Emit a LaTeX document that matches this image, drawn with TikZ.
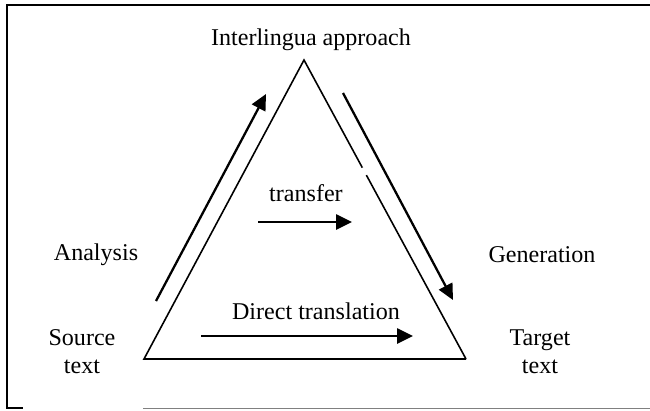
\documentclass[tikz,border=0pt]{standalone}
\usepackage{fontspec}
\setmainfont{Liberation Serif}
\usetikzlibrary{arrows.meta,calc}

\begin{document}
\begin{tikzpicture}[x=0.02cm, y=-0.02cm,
    lbl/.style={inner sep=0pt, align=center, font=\fontsize{13.7}{16}\selectfont},
    flow/.style={-{Triangle[length=9pt, width=8.5pt]}, line width=1.3pt}]
    \useasboundingbox (0,0) rectangle (650,410);
    %cornice
    \draw[line width=1pt] (650,5) -- (7,5) -- (7,408) -- (23,408);
    \draw[gray] (143,408) -- (650,408);
    %triangolo
    \coordinate (apex) at (304,60);
    \coordinate (sl) at (144,359);
    \coordinate (sr) at (466,359);
    \draw[line width=0.9pt] (sr) -- (sl) -- (apex) -- ($(apex)!0.36!(sr)$);
    \draw[line width=0.9pt] ($(apex)!0.385!(sr)$) -- (sr);
    %testi
    \node[lbl] (inter) at (311,40) {Interlingua approach};
    \node[lbl] (transfer) at (306,193) {transfer};
    \node[lbl] (analysis) at (96,255) {Analysis};
    \node[lbl] (generation) at (542,255) {Generation};
    \node[lbl] (direct) at (316,311) {Direct translation};
    \node[lbl] (source) at (82,352) {Source\\text};
    \node[lbl] (target) at (540,352) {Target\\text};
    %frecce
    \coordinate (a1) at (156,301);
    \coordinate (a2) at (266,94);
    \coordinate (g1) at (343,93);
    \coordinate (g2) at (453,300);
    \coordinate (t1) at (258,222);
    \coordinate (t2) at (352,222);
    \coordinate (d1) at (201,336);
    \coordinate (d2) at (413,336);
    \draw[flow] (a1) -- (a2);
    \draw[flow] (g1) -- (g2);
    \draw[flow] (t1) -- (t2);
    \draw[flow] (d1) -- (d2);
\end{tikzpicture}
\end{document}
